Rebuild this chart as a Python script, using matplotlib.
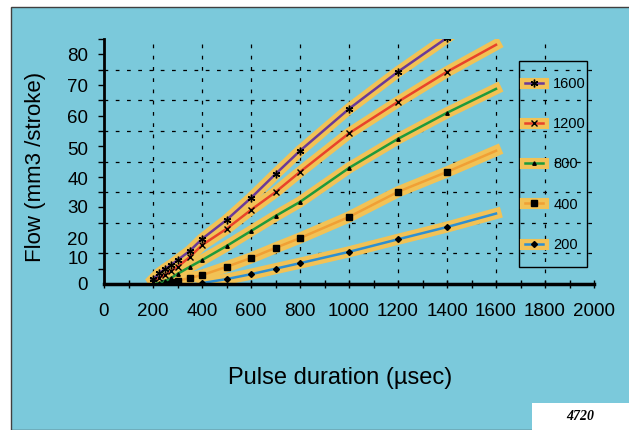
import numpy as np
import matplotlib.pyplot as plt
from matplotlib.patches import Rectangle
from matplotlib.legend_handler import HandlerTuple

plt.rcParams['font.family'] = ['Liberation Sans', 'DejaVu Sans']

# pulse duration (usec) and flow (mm3/stroke) per pressure series
pulse = [200, 225, 250, 275, 300, 350, 400, 500, 600, 700, 800, 1000, 1200, 1400, 1600]
flow_1600 = [1.5, 3.5, 5.0, 6.3, 7.8, 10.8, 14.7, 20.9, 28.1, 35.9, 43.5, 57.2, 69.3, 80.4]
flow_1200 = [0.8, 2.0, 3.0, 4.3, 5.6, 8.8, 12.7, 18.0, 24.2, 30.0, 36.6, 49.2, 59.5, 69.3, 78.1]
flow_800 = [0.0, 0.3, 1.0, 2.0, 3.3, 5.6, 7.8, 12.4, 17.3, 22.2, 26.8, 37.9, 47.4, 55.9, 63.7]
flow_400 = [0.2, 0.5, 1.0, 2.0, 2.9, 5.6, 8.5, 11.8, 15.0, 21.9, 30.1, 36.6, 43.5]
flow_200 = [0.3, 1.6, 3.2, 5.0, 6.8, 10.5, 14.6, 18.6, 23.0]

series = [
    ('200', pulse[6:], flow_200, '#2f8fd0', 'D', 3),
    ('400', pulse[2:], flow_400, '#f0a035', 's', 4),
    ('800', pulse, flow_800, '#1f9a3c', '^', 2.5),
    ('1200', pulse, flow_1200, '#e8432b', 'x', 4),
    ('1600', pulse[:14], flow_1600, '#6a3a98', (6, 2, 0), 5.5),
]

# y tick labels sit a bit off the grid in the original
ylab_pos = [0, 8.5, 15, 25.2, 34.6, 44.4, 54.6, 64.7, 74.8]
ylab_txt = ['0', '10', '20', '30', '40', '50', '60', '70', '80']

halo = '#f2c255'
bg = '#7bc9db'

fig = plt.figure(figsize=(6.29, 4.30), dpi=100)
fig.patch.set_facecolor('white')
fig.patches.append(Rectangle((11 / 629, 0), 1, 1 - 7 / 430, transform=fig.transFigure,
                             facecolor=bg, edgecolor='#404040', lw=1, zorder=-2))
fig.patches.append(Rectangle((532 / 629, 0), 1, 27 / 430, transform=fig.transFigure,
                             facecolor='white', edgecolor='none', zorder=-1))
# legend box
fig.patches.append(Rectangle((519 / 629, 1 - 267 / 430), 68 / 629, 206 / 430, transform=fig.transFigure,
                             facecolor='none', edgecolor='black', lw=1, zorder=5))

ax = fig.add_axes([104 / 629, (430 - 284) / 430, 490 / 629, 245 / 430])
ax.set_facecolor('none')

handles = []
for lab, x, y, col, mk, ms in series:
    last = len(y) if lab == '1600' else len(y) - 1
    h1, = ax.plot(x, y, color=halo, lw=8, solid_capstyle='projecting', zorder=2)
    h2, = ax.plot(x, y, color=col, lw=1.8, marker=mk, ms=ms, mfc='black', mec='black',
                  mew=1, markevery=slice(0, last), zorder=3)
    handles.append(((h1, h2), lab))

ax.set_xlim(0, 2000)
ax.set_ylim(0, 80)
ax.set_xticks(np.arange(0, 2001, 200))
ax.set_xticks(np.arange(0, 2001, 100), minor=True)
ax.set_yticks(ylab_pos, ylab_txt)
ax.set_yticks(np.arange(0, 81, 5), minor=True)
ax.tick_params(axis='x', which='both', direction='inout', length=6, width=1, labelsize=13.5, pad=11)
ax.tick_params(axis='y', which='major', length=0, labelsize=13.5, pad=11.5)
ax.tick_params(axis='y', which='minor', direction='out', length=4, width=1)

for v in range(200, 1801, 200):
    ax.axvline(v, color='black', lw=0.9, ls=(0, (3, 6)), zorder=1)
for v in range(10, 71, 10):
    ax.axhline(v, color='black', lw=0.9, ls=(0, (3, 6)), zorder=1)

for s in ['top', 'right']:
    ax.spines[s].set_visible(False)
ax.spines['left'].set_linewidth(2)
ax.spines['bottom'].set_linewidth(2.5)
ax.spines['bottom'].set_zorder(4)

hs = [h for h, _ in handles][::-1]
ls = [l for _, l in handles][::-1]
leg = fig.legend(hs, ls, handler_map={tuple: HandlerTuple(ndivide=1)},
                 loc='upper left', bbox_to_anchor=(519 / 629, 1 - 71 / 430),
                 frameon=False, fontsize=10.5, labelspacing=1.8,
                 handlelength=1.25, handletextpad=0.7, borderpad=0.4, borderaxespad=0)

fig.text(340 / 629, 1 - 378 / 430, 'Pulse duration (\u00b5sec)', fontsize=17, ha='center', va='center')
fig.text(36 / 629, 1 - 167 / 430, 'Flow (mm3 /stroke)', fontsize=16, rotation=90, ha='center', va='center')
fig.text(580 / 629, 1 - 416 / 430, '4720', fontsize=10, fontweight='bold', fontstyle='italic',
         family='Liberation Serif', ha='center', va='center')

plt.savefig('out.png', dpi=100)
